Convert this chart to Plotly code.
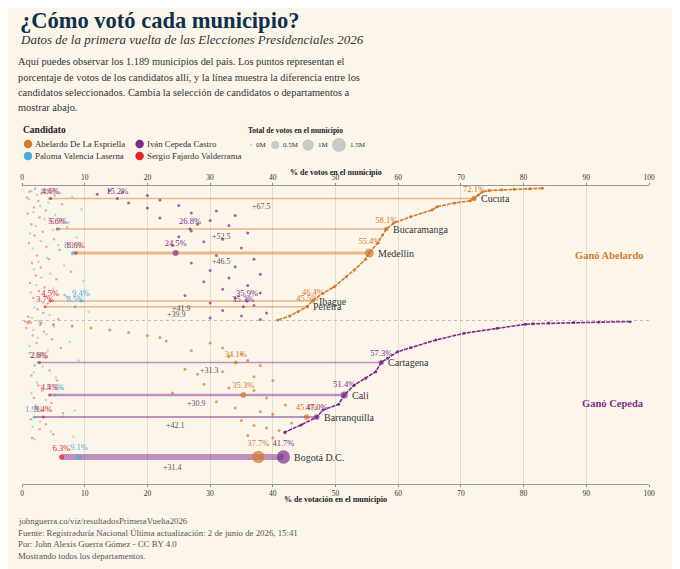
import plotly.graph_objects as go

# Candidatos y colores
candidatos = ["Abelardo De La Espriella", "Iván Cepeda Castro",
              "Paloma Valencia Laserna", "Sergio Fajardo Valderrama"]
colores = ["#d27b2c", "#7d2c8c", "#48a9df", "#e2252d"]

# Municipios destacados (fila = orden por diferencia, de arriba a abajo)
ciudades = ["Cucuta", "Bucaramanga", "Medellin", "Ibague", "Pereira",
            "Cartagena", "Cali", "Barranquilla", "Bogotá D.C."]
ciudad_fila = [42, 164, 260, 452, 475, 698, 828, 916, 1076]
ciudad_abelardo = [72.1, 58.1, 55.4, 46.4, 45.5, 34.1, 35.3, 45.4, 37.7]
ciudad_cepeda = [15.2, 26.8, 24.5, 35.9, 35.3, 57.3, 51.4, 47.0, 41.7]
ciudad_paloma = [4.4, 5.9, 8.1, 9.4, 8.5, 2.6, 5.3, 1.9, 9.1]
ciudad_sergio = [4.6, 5.6, 8.6, 4.5, 3.7, 2.8, 4.4, 3.4, 6.3]
ciudad_total_m = [0.30, 0.30, 1.15, 0.25, 0.22, 0.35, 0.75, 0.55, 3.30]
ciudad_diferencia = [67.5, 52.5, 46.5, 41.9, 39.9, 31.3, 30.9, 42.1, 31.4]

# Curva del ganador: Abelardo (arriba) y Cepeda (abajo)
abelardo_curva_fila = [1, 3, 5, 7, 10, 16, 28, 42, 51, 60, 75, 88, 115, 140, 164,
                       188, 221, 258, 285, 328, 355, 395, 421, 450, 474, 495, 512, 528]
abelardo_curva_pct = [83.0, 81.0, 78.5, 76.5, 74.5, 73.4, 72.8, 72.1, 71.5, 69.0, 66.2,
                      65.4, 62.0, 59.3, 58.1, 57.5, 56.7, 55.4, 54.8, 53.0, 51.7, 49.8,
                      48.0, 46.4, 45.5, 44.0, 42.7, 40.8]
cepeda_curva_fila = [534, 536, 538, 540, 543, 545, 561, 581, 608, 639, 655, 681, 698,
                     735, 761, 788, 828, 865, 888, 916, 948, 977]
cepeda_curva_pct = [97.0, 92.0, 88.0, 84.0, 81.5, 80.3, 75.8, 70.5, 66.0, 62.0, 59.9,
                    58.3, 57.3, 56.4, 54.8, 53.0, 51.4, 50.5, 48.0, 47.0, 44.5, 41.9]

# Resto de municipios (muestra): votos del perdedor principal
cepeda_resto_fila = [10, 18, 25, 30, 48, 60, 70, 80, 92, 100, 110, 120, 130, 145, 150,
                     172, 180, 195, 205, 215, 230, 240, 270, 285, 300, 315, 330, 345,
                     360, 375, 390, 405, 420, 430, 440, 460, 470, 490, 500, 512, 520, 526]
cepeda_resto_pct = [14, 16, 12, 20, 22, 17, 25, 20, 31, 27, 34, 22, 30, 28, 33, 27, 36,
                    25, 32, 29, 24, 35, 31, 37, 27, 34, 30, 38, 33, 29, 36, 32, 38, 26,
                    34, 30, 37, 32, 39, 35, 30, 38]
abelardo_resto_fila = [536, 540, 546, 552, 560, 568, 578, 590, 598, 612, 620, 640, 650,
                       665, 675, 690, 710, 725, 735, 745, 755, 770, 785, 800, 810, 820,
                       840, 855, 868, 880, 895, 905, 930, 940, 950, 960, 970, 980, 990, 1000]
abelardo_resto_pct = [1, 3, 5, 8, 11, 14, 17, 20, 22, 23, 30, 32, 27, 35, 33, 36, 38,
                      26, 32, 28, 37, 40, 29, 33, 37, 24, 39, 31, 42, 34, 38, 40, 35,
                      43, 37, 39, 41, 42, 36, 40]

sergio_resto_fila = [3, 8, 15, 22, 30, 38, 52, 65, 78, 90, 102, 118, 132, 145, 158, 175,
                     190, 205, 220, 235, 248, 270, 285, 300, 318, 335, 350, 365, 380, 398,
                     412, 428, 440, 462, 485, 500, 515, 524, 534, 538, 548, 560, 575, 590,
                     605, 620, 640, 660, 680, 710, 730, 750, 770, 790, 810, 840, 860, 880,
                     900, 925, 945, 965, 985, 1000]
sergio_resto_pct = [2.1, 4.0, 1.2, 3.1, 5.2, 0.8, 2.6, 6.4, 1.9, 3.8, 0.9, 2.8, 4.6, 1.5,
                    7.2, 3.3, 2.0, 5.1, 1.1, 3.9, 6.0, 2.4, 4.3, 1.6, 3.0, 7.8, 2.2, 5.5,
                    1.3, 3.6, 2.7, 6.8, 1.8, 4.1, 2.5, 3.4, 1.0, 5.8, 0.5, 1.4, 2.9, 0.7,
                    3.5, 1.7, 4.8, 2.3, 6.2, 1.2, 3.7, 2.0, 4.4, 1.5, 5.6, 2.6, 3.2, 1.9,
                    4.7, 2.1, 6.5, 1.4, 3.8, 2.8, 5.0, 1.6]
paloma_resto_fila = [5, 12, 20, 28, 35, 45, 58, 72, 85, 96, 108, 125, 138, 152, 168, 182,
                     198, 212, 228, 242, 265, 280, 295, 310, 325, 342, 358, 372, 388, 402,
                     418, 435, 458, 478, 495, 508, 520, 532, 542, 555, 568, 585, 600, 615,
                     632, 650, 670, 690, 715, 738, 758, 778, 800, 820, 848, 870, 890, 912,
                     935, 955, 975, 995, 1005]
paloma_resto_pct = [3.2, 1.5, 6.1, 2.4, 8.0, 1.1, 4.2, 2.9, 9.5, 1.8, 5.3, 3.6, 7.4, 2.2,
                    4.9, 1.3, 8.7, 3.0, 5.8, 1.7, 8.0, 4.0, 2.6, 6.7, 1.9, 4.5, 3.1, 9.8,
                    2.3, 5.0, 1.4, 7.1, 3.4, 2.0, 10.6, 4.4, 1.6, 2.7, 0.9, 5.1, 1.8, 3.9,
                    2.5, 7.6, 1.2, 4.1, 2.8, 9.0, 3.3, 1.9, 5.4, 2.4, 6.3, 1.5, 3.8, 2.2,
                    8.4, 6.6, 2.9, 1.7, 4.6, 8.2, 2.0]

ejes_ticks = list(range(0, 101, 10))
leyenda_tamanos = [0, 0.5, 1, 1.5]
leyenda_tamanos_txt = ["0M", "0.5M", "1M", "1.5M"]
fila_division = 530

# la pagina tiene 8px de margen en el body
OFF = 8
W, H = 680 - OFF, 569 - OFF
ML, MR, MT, MB = 20 - OFF, 31, 186 - OFF, 85
PW, PH = W - ML - MR, H - MT - MB
SERIF = "Liberation Serif, Georgia, serif"
BG = "#fcf6ea"
TXT = "#333333"


def px(x):
    return (x - OFF - ML) / PW


def py(y):
    return 1 - (y - OFF - MT) / PH


def tamano(votos_m):
    return max(3, 11.3 * votos_m ** 0.5)


def rgba(hexc, a):
    h = hexc.lstrip("#")
    return "rgba(%d,%d,%d,%s)" % (int(h[0:2], 16), int(h[2:4], 16), int(h[4:6], 16), a)


anots = []
shapes = []


def texto(x, y, s, size, color=TXT, anchor="left"):
    anots.append(dict(x=px(x), y=py(y), xref="paper", yref="paper", text=s,
                      showarrow=False, xanchor=anchor, yanchor="middle",
                      font=dict(family=SERIF, size=size, color=color)))


def circulo(cx, cy, d, color):
    r = d / 2
    shapes.append(dict(type="circle", xref="paper", yref="paper",
                       xsizemode="pixel", ysizemode="pixel",
                       xanchor=px(cx), yanchor=py(cy), x0=-r, x1=r, y0=-r, y1=r,
                       fillcolor=color, line=dict(width=0)))


fig = go.Figure()

# fondo: resto de municipios
fig.add_trace(go.Scatter(x=paloma_resto_pct, y=paloma_resto_fila, mode="markers",
                         marker=dict(size=2.5, color=colores[2], opacity=0.4),
                         hoverinfo="skip"))
fig.add_trace(go.Scatter(x=sergio_resto_pct, y=sergio_resto_fila, mode="markers",
                         marker=dict(size=2.5, color=colores[3], opacity=0.4),
                         hoverinfo="skip"))
fig.add_trace(go.Scatter(x=cepeda_resto_pct, y=cepeda_resto_fila, mode="markers",
                         marker=dict(size=3, color=colores[1], opacity=0.7),
                         hoverinfo="skip"))
fig.add_trace(go.Scatter(x=abelardo_resto_pct, y=abelardo_resto_fila, mode="markers",
                         marker=dict(size=3, color=colores[0], opacity=0.7),
                         hoverinfo="skip"))

# curvas de los ganadores
fig.add_trace(go.Scatter(x=abelardo_curva_pct, y=abelardo_curva_fila, mode="lines+markers",
                         line=dict(color=colores[0], width=1.6, dash="4px,1px"),
                         marker=dict(size=3, color=colores[0]), hoverinfo="skip"))
fig.add_trace(go.Scatter(x=cepeda_curva_pct, y=cepeda_curva_fila, mode="lines+markers",
                         line=dict(color=colores[1], width=1.6, dash="4px,1px"),
                         marker=dict(size=3, color=colores[1]), hoverinfo="skip"))

# lineas de diferencia de los municipios destacados
for i, c in enumerate(ciudades):
    vals = [ciudad_abelardo[i], ciudad_cepeda[i], ciudad_paloma[i], ciudad_sergio[i]]
    gana = 0 if ciudad_abelardo[i] > ciudad_cepeda[i] else 1
    x0, x1 = min(vals), vals[gana]
    w = 1.2 + 1.5 * ciudad_total_m[i]
    fig.add_trace(go.Scatter(x=[x0, x1], y=[ciudad_fila[i]] * 2, mode="lines",
                             line=dict(color=rgba(colores[gana], 0.5), width=w),
                             hoverinfo="skip"))
    anots.append(dict(x=(x0 + x1) / 2, y=ciudad_fila[i], xref="x", yref="y",
                      text="+%.1f" % ciudad_diferencia[i], showarrow=False,
                      yshift=-7 - w / 2, font=dict(family=SERIF, size=8, color="#555")))
    d = tamano(ciudad_total_m[i] * vals[gana] / 100)
    anots.append(dict(x=x1, y=ciudad_fila[i], xref="x", yref="y", text=c,
                      showarrow=False, xanchor="left", xshift=d / 2 + 2,
                      font=dict(family=SERIF, size=10, color=TXT)))

# puntos de los municipios destacados
series = [(ciudad_paloma, 2), (ciudad_sergio, 3), (ciudad_abelardo, 0), (ciudad_cepeda, 1)]
for vals, k in series:
    fig.add_trace(go.Scatter(
        x=vals, y=ciudad_fila, mode="markers+text",
        marker=dict(size=[tamano(t * v / 100) for t, v in zip(ciudad_total_m, vals)],
                    color=colores[k], line=dict(width=0)),
        text=["%.1f%%" % v for v in vals], textposition="top center",
        textfont=dict(family=SERIF, size=8.5, color=colores[k]),
        cliponaxis=False, hoverinfo="skip"))

# eje superior
fig.add_trace(go.Scatter(x=[0, 100], y=[-100, -100], xaxis="x2", mode="markers",
                         marker=dict(opacity=0), hoverinfo="skip"))

shapes.append(dict(type="line", xref="x", yref="y", x0=0, x1=100,
                   y0=fila_division, y1=fila_division,
                   line=dict(color="#c8c0b4", width=1, dash="dot")))

# encabezado
texto(16, 20, "<b>¿Cómo votó cada municipio?</b>", 22.5, "#10304f")
texto(16, 40, "<i>Datos de la primera vuelta de las Elecciones Presidenciales 2026</i>", 13, TXT)
parrafo = ["Aquí puedes observar los 1.189 municipios del país. Los puntos representan el",
           "porcentaje de votos de los candidatos allí, y la línea muestra la diferencia entre los",
           "candidatos seleccionados. Cambia la selección de candidatos o departamentos a",
           "mostrar abajo."]
for j, linea in enumerate(parrafo):
    texto(14, 62 + j * 15, linea, 10.4, TXT)

texto(19, 130, "<b>Candidato</b>", 9.5, "#222")
leyenda_pos = [(26, 144), (138, 144), (26, 156), (138, 156)]
orden_leyenda = [0, 1, 2, 3]
for (cx, cy), k in zip(leyenda_pos, orden_leyenda):
    circulo(cx, cy, 8.5, colores[k])
    texto(cx + 5, cy, candidatos[k], 8.8, TXT)

texto(245, 130, "<b>Total de votos en el municipio</b>", 7.5, "#222")
leyenda_x = [250, 274, 307, 338]
for cx, v, s in zip(leyenda_x, leyenda_tamanos, leyenda_tamanos_txt):
    d = tamano(v) if v > 0 else 2
    circulo(cx, 145, d, "#c9c9c9")
    texto(cx + d / 2 + 2, 145, s, 7, TXT)

# titulos de ejes y anotaciones
texto(335, 172, "<b>% de votos en el municipio</b>", 8, "#222", "center")
texto(335, 499, "<b>% de votación en el municipio</b>", 8, "#222", "center")
texto(646, 255, "<b>Ganó Abelardo</b>", 10.5, colores[0], "right")
texto(646, 403, "<b>Ganó Cepeda</b>", 10.5, colores[1], "right")

# pie
pie = ["johnguerra.co/viz/resultadosPrimeraVuelta2026",
       "Fuente: Registraduría Nacional Última actualización: 2 de junio de 2026, 15:41",
       "Por: John Alexis Guerra Gómez - CC BY 4.0",
       "Mostrando todos los departamentos."]
for j, linea in enumerate(pie):
    texto(14, 521 + j * 11.5, linea, 8.8, "#555")

eje = dict(range=[0, 100], tickvals=ejes_ticks, ticks="outside", ticklen=2,
           tickcolor="#888", showline=True, linecolor="#999", linewidth=1,
           zeroline=False, tickfont=dict(family=SERIF, size=7.5, color=TXT),
           fixedrange=True)

fig.update_layout(
    width=W, height=H,
    margin=dict(l=ML, r=MR, t=MT, b=MB),
    paper_bgcolor=BG, plot_bgcolor=BG,
    showlegend=False,
    xaxis=dict(eje, showgrid=True, gridcolor="#e6ddcd", gridwidth=1),
    xaxis2=dict(eje, overlaying="x", side="top", showgrid=False),
    yaxis=dict(range=[1184, -8], visible=False, fixedrange=True),
    annotations=anots,
    shapes=shapes,
)

fig.write_html("out.html")
